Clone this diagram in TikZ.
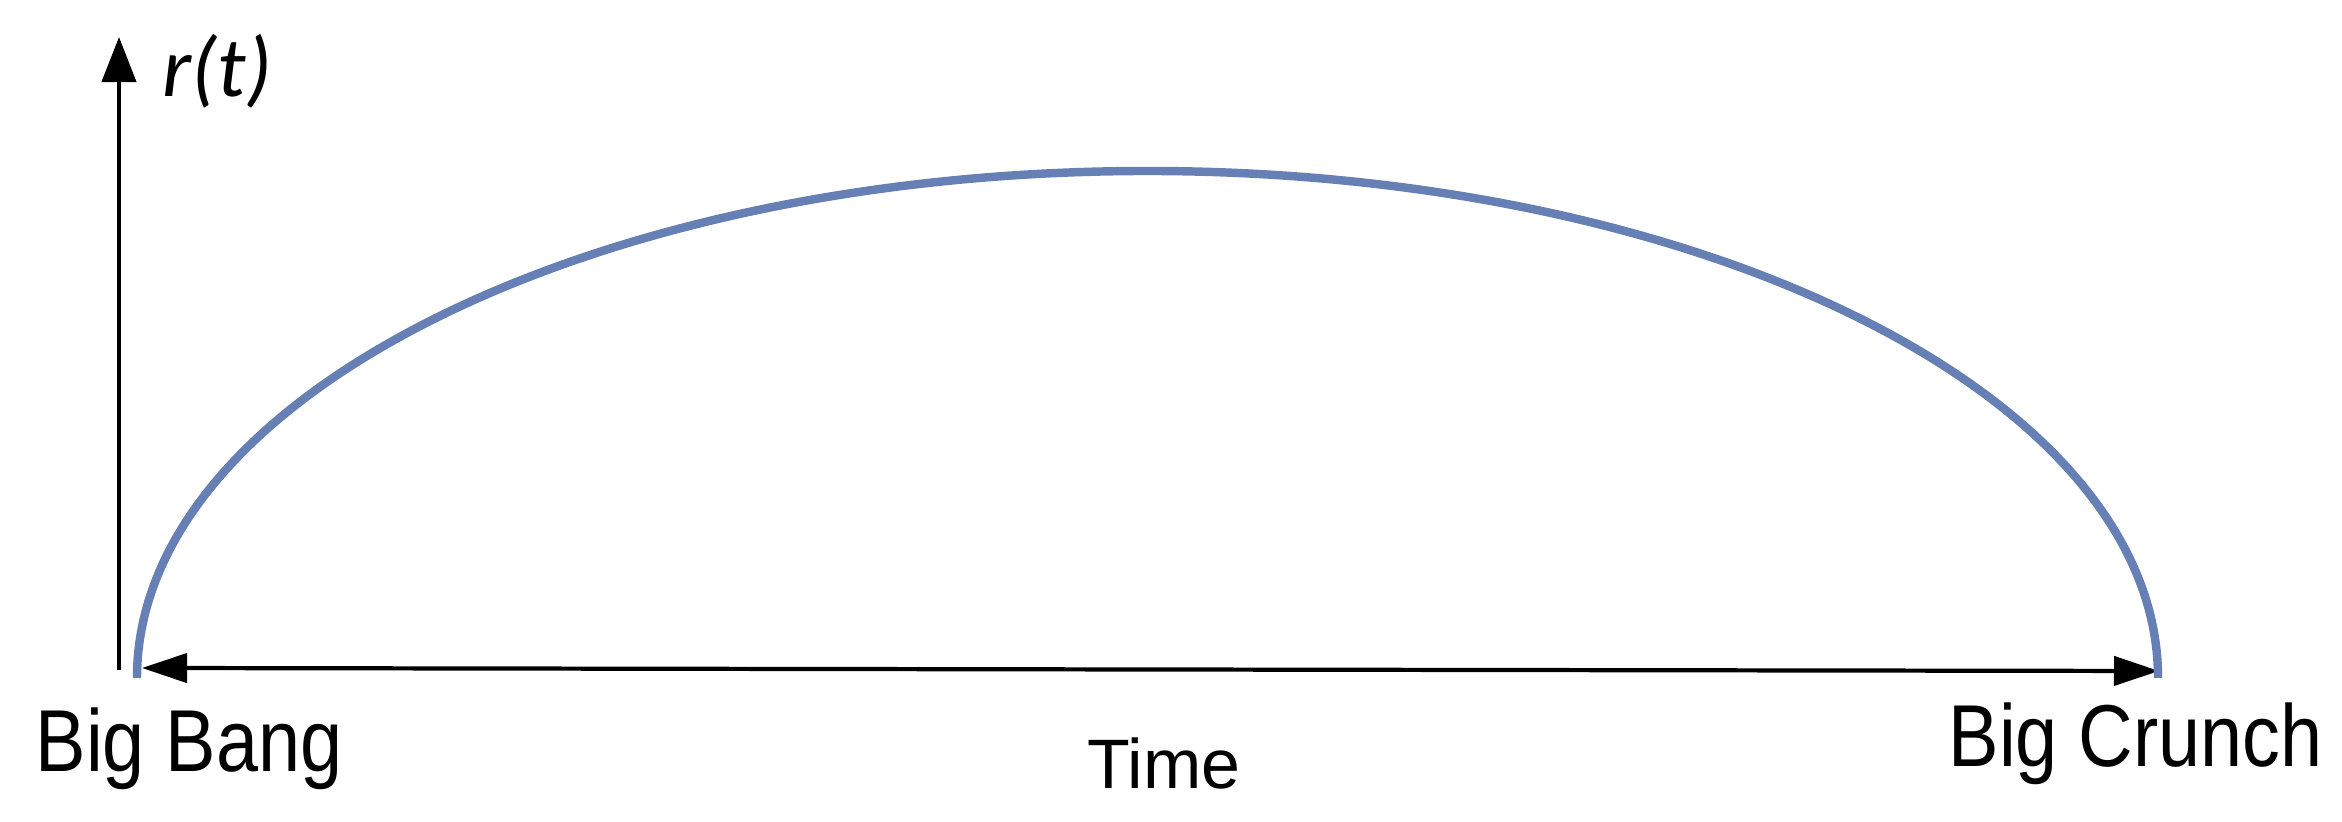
\documentclass[tikz,border=0pt]{standalone}
\usepackage{fontspec}
\usepackage{graphicx}
\usetikzlibrary{arrows.meta}
\setmainfont{Liberation Sans}
\newfontfamily\carlito{Carlito}
\definecolor{curveblue}{HTML}{6680B6}
\tikzset{
  axisline/.style={line width=1.2pt, -{Triangle[length=0.45cm, width=0.34cm]}},
  timeline/.style={line width=1.2pt, {Triangle[length=0.45cm, width=0.29cm]}-{Triangle[length=0.45cm, width=0.29cm]}},
  rcurve/.style={line width=2.4pt, curveblue},
  bigtext/.style={inner sep=0pt, anchor=base west, font=\fontsize{25pt}{30pt}\selectfont},
  timetext/.style={inner sep=0pt, anchor=base west, font=\fontsize{19.9pt}{24pt}\selectfont},
  rtext/.style={inner sep=0pt, anchor=base west, font=\carlito\itshape\fontsize{24.2pt}{29pt}\selectfont}
}
\begin{document}
\begin{tikzpicture}[x=0.01cm, y=0.01cm]
\useasboundingbox (0,0) rectangle (2342,822);
% axis
\coordinate (ybot) at (119,152);
\coordinate (ytop) at (119,785);
\draw[axisline] (ybot) -- (ytop);
% time arrow
\coordinate (tleft) at (142,154);
\coordinate (tright) at (2159,151);
\draw[timeline] (tleft) -- (tright);
% curve
\coordinate (cstart) at (137,144);
\draw[rcurve] (cstart) arc[start angle=180, end angle=0, x radius=1010.5, y radius=507];
% labels
\node[rtext] (rt) at (162,725) {r(t)};
\node[bigtext] (bang) at (35,50) {\scalebox{0.86}[1]{Big Bang}};
\node[bigtext] (crunch) at (1948,55) {\scalebox{0.86}[1]{Big Crunch}};
\node[timetext] (time) at (1087,33) {Time};
\end{tikzpicture}
\end{document}
